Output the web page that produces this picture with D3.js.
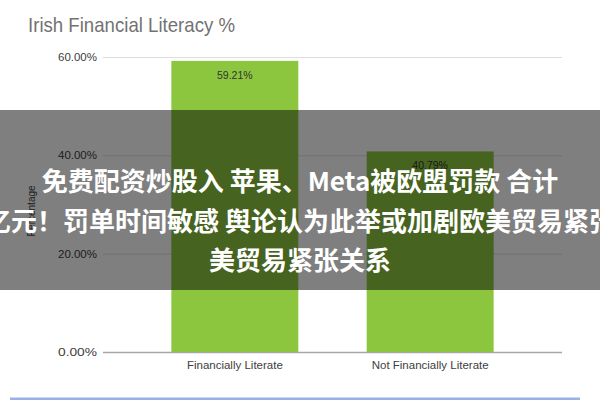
<!DOCTYPE html>
<html>
<head>
<meta charset="utf-8">
<script src="https://cdn.jsdelivr.net/npm/d3@7"></script>
<style>
  html, body { margin: 0; padding: 0; background: #fff; }
  svg { display: block; }
</style>
</head>
<body>
<svg id="chart" width="600" height="400"></svg>
<script>
// chart data
const categories = ["Financially Literate", "Not Financially Literate"];
const values = [0.5921, 0.4079];
const yTicks = [0, 0.2, 0.4, 0.6];
const titleText = "Irish Financial Literacy %";
const yTitle = "Percentage";
const bannerLines = [
    "免费配资炒股入 苹果、Meta被欧盟罚款 合计",
    "亿元！罚单时间敏感 舆论认为此举或加剧欧美贸易紧张",
    "美贸易紧张关系"
];

const svg = d3.select("#chart");
const fmt = d3.format(".2%");

// plot area (window.top is taken, hence the prefix)
const plotLeft = 103, plotRight = 562, plotTop = 57, plotBottom = 352;

const x = d3.scaleBand()
    .domain(categories)
    .range([plotLeft, plotRight])
    .paddingInner(0.35)
    .paddingOuter(0.35);

const y = d3.scaleLinear()
    .domain([0, 0.6])
    .range([plotBottom, plotTop]);

// title
svg.append("text")
    .attr("x", 28).attr("y", 32)
    .attr("font-family", "Liberation Sans, Arial, sans-serif")
    .attr("font-size", 21)
    .attr("fill", "#727272")
    .attr("textLength", 207)
    .attr("lengthAdjust", "spacingAndGlyphs")
    .text(titleText);

// y axis with gridlines
const yAxis = svg.append("g")
    .attr("transform", `translate(${plotLeft},0)`)
    .call(d3.axisLeft(y).tickValues(yTicks).tickFormat(fmt).tickSize(-(plotRight - plotLeft)).tickPadding(6));

yAxis.select(".domain").remove();
yAxis.selectAll(".tick line")
    .attr("stroke", d => d === 0 ? "#a6a6a6" : "#dedede")
    .attr("stroke-width", d => d === 0 ? 1.6 : 1);
yAxis.selectAll(".tick text")
    .attr("font-family", "Liberation Sans, Arial, sans-serif")
    .attr("font-size", 10.5)
    .attr("textLength", 39)
    .attr("lengthAdjust", "spacingAndGlyphs")
    .attr("fill", "#404040");

// y axis title
svg.append("text")
    .attr("transform", "translate(35,211) rotate(-90)")
    .attr("text-anchor", "middle")
    .attr("font-family", "Liberation Sans, Arial, sans-serif")
    .attr("font-size", 10)
    .attr("fill", "#404040")
    .text(yTitle);

// bars
svg.append("g").selectAll("rect")
    .data(values)
    .join("rect")
    .attr("x", (d, i) => x(categories[i]))
    .attr("y", d => y(d))
    .attr("width", x.bandwidth())
    .attr("height", d => y(0) - y(d))
    .attr("fill", "#8cc63e");

// value labels
svg.append("g").selectAll("text")
    .data(values)
    .join("text")
    .attr("x", (d, i) => x(categories[i]) + x.bandwidth() / 2)
    .attr("y", d => y(d) + 18)
    .attr("text-anchor", "middle")
    .attr("font-family", "Liberation Sans, Arial, sans-serif")
    .attr("font-size", 10.5)
    .attr("fill", "#333")
    .text(d => fmt(d));

// x axis labels
const xAxis = svg.append("g")
    .attr("transform", `translate(0,${plotBottom})`)
    .call(d3.axisBottom(x).tickSize(0).tickPadding(9));
xAxis.select(".domain").remove();
xAxis.selectAll(".tick text")
    .attr("font-family", "Liberation Sans, Arial, sans-serif")
    .attr("font-size", 11.5)
    .attr("fill", "#404040");

// blue strip at the bottom
svg.append("line")
    .attr("x1", 10).attr("x2", 580)
    .attr("y1", 399).attr("y2", 399)
    .attr("stroke", "#9ab0e6")
    .attr("stroke-width", 3);

// dark overlay banner with the headline
svg.append("rect")
    .attr("x", 0).attr("y", 110)
    .attr("width", 600).attr("height", 180)
    .attr("fill", "#000")
    .attr("fill-opacity", 0.5);

svg.append("g").selectAll("text")
    .data(bannerLines)
    .join("text")
    .attr("x", 300)
    .attr("y", (d, i) => 191 + i * 39.5)
    .attr("text-anchor", "middle")
    .attr("font-family", "Noto Sans CJK SC, sans-serif")
    .attr("font-weight", "bold")
    .attr("font-size", 26)
    .attr("fill", "#fff")
    .text(d => d);
</script>
</body>
</html>
